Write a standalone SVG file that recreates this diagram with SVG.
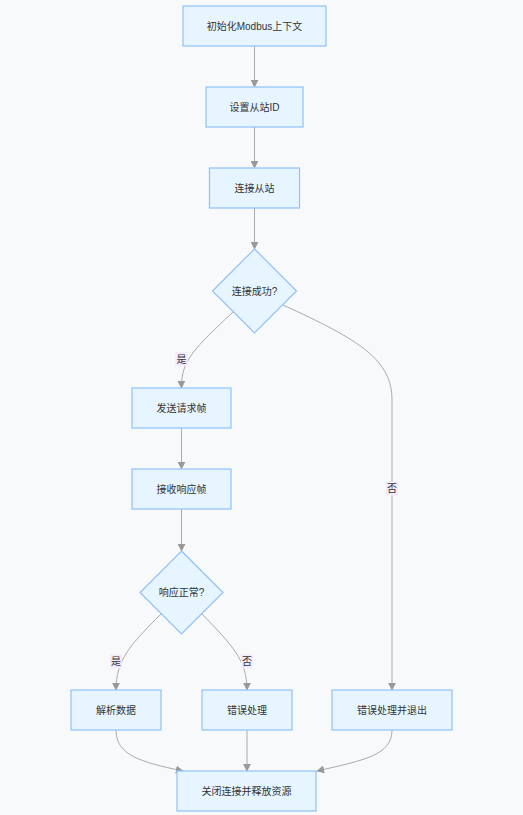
<svg xmlns="http://www.w3.org/2000/svg" width="523" height="815" viewBox="0 0 523 815">
<style>
.bg{fill:#f8f9fb}
.n rect,.n polygon{fill:#e6f5ff;stroke:#90c2f9;stroke-width:1.2}
.n text{font-family:"Liberation Sans","Noto Sans CJK SC",sans-serif;font-size:10px;fill:#333;text-anchor:middle;dominant-baseline:central}
.e path{fill:none;stroke:#aaa;stroke-width:1;marker-end:url(#ah)}
.lb rect{fill:#f3eafc}
.lb text{font-family:"Liberation Sans","Noto Sans CJK SC",sans-serif;font-size:10px;fill:#333;text-anchor:middle;dominant-baseline:central}
</style>
<defs>
<marker id="ah" viewBox="0 0 10 10" refX="9" refY="5" markerWidth="8" markerHeight="8" markerUnits="userSpaceOnUse" orient="auto">
<path d="M0,0 L10,5 L0,10 z" fill="#999"/>
</marker>
</defs>
<rect class="bg" x="0" y="0" width="523" height="815"/>
<g id="edges" class="e">
<path d="M254.5,46 L254.5,87"/>
<path d="M254.5,127 L254.5,168"/>
<path d="M254.5,208 L254.5,249"/>
<path d="M233,312 C195,348 181,360 181.5,388"/>
<path d="M283,305 C360,340 392,360 392,400 L392,690"/>
<path d="M181.5,428 L181.5,469"/>
<path d="M181.5,509 L181.5,551"/>
<path d="M161,614 C130,645 116,660 116,690"/>
<path d="M202,614 C232,645 247,660 247,690"/>
<path d="M116,730 C116,755 140,762 183,771"/>
<path d="M247,730 L247,771"/>
<path d="M392,730 C392,755 365,760 317,771"/>
</g>
<g id="labels" class="lb">
<g><rect x="175.5" y="352" width="12" height="14"/><text x="181.5" y="359">是</text></g>
<g><rect x="386" y="481.5" width="12" height="14"/><text x="392" y="488.5">否</text></g>
<g><rect x="110" y="654.5" width="12" height="14"/><text x="116" y="661.5">是</text></g>
<g><rect x="241" y="654.5" width="12" height="14"/><text x="247" y="661.5">否</text></g>
</g>
<g id="n1" class="n"><rect x="183" y="6" width="143" height="40"/><text x="254.5" y="26">初始化Modbus上下文</text></g>
<g id="n2" class="n"><rect x="206" y="87" width="97" height="40"/><text x="254.5" y="107">设置从站ID</text></g>
<g id="n3" class="n"><rect x="209.5" y="168" width="90" height="40"/><text x="254.5" y="188">连接从站</text></g>
<g id="d1" class="n"><polygon points="254.5,249 296.5,291 254.5,333 212.5,291"/><text x="254.5" y="291">连接成功?</text></g>
<g id="n4" class="n"><rect x="132" y="388" width="99" height="40"/><text x="181.5" y="408">发送请求帧</text></g>
<g id="n5" class="n"><rect x="132" y="469" width="99" height="40"/><text x="181.5" y="489">接收响应帧</text></g>
<g id="d2" class="n"><polygon points="181.5,551 223,592.5 181.5,634 140,592.5"/><text x="181.5" y="592.5">响应正常?</text></g>
<g id="n6" class="n"><rect x="71" y="690" width="90" height="40"/><text x="116" y="710">解析数据</text></g>
<g id="n7" class="n"><rect x="202" y="690" width="90" height="40"/><text x="247" y="710">错误处理</text></g>
<g id="n8" class="n"><rect x="332" y="690" width="120" height="40"/><text x="392" y="710">错误处理并退出</text></g>
<g id="n9" class="n"><rect x="177" y="771" width="139" height="40"/><text x="246.5" y="791">关闭连接并释放资源</text></g>
</svg>
